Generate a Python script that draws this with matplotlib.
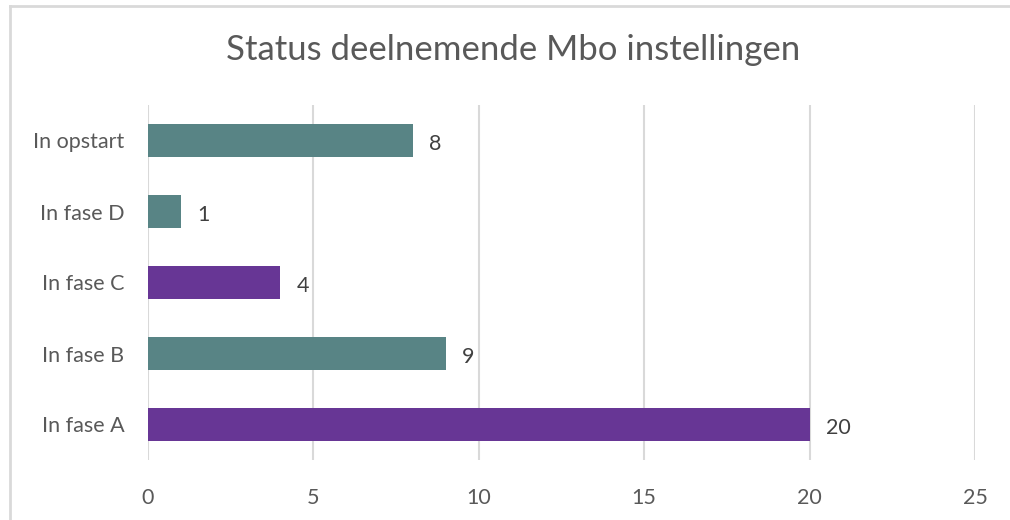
import matplotlib
matplotlib.use("Agg")
import matplotlib.pyplot as plt
from matplotlib.lines import Line2D

categories = ["In fase A", "In fase B", "In fase C", "In fase D", "In opstart"]
values = [20, 9, 4, 1, 8]
colors = ["#673695", "#588485", "#673695", "#588485", "#588485"]
xticks = [0, 5, 10, 15, 20, 25]
title = "Status deelnemende Mbo instellingen"

plt.rcParams['font.family'] = ['Lato', 'DejaVu Sans']
txt = "#595959"

fig = plt.figure(figsize=(10.1, 5.2), dpi=100)
ax = fig.add_axes([148/1010, 1 - 460/520, (975-148)/1010, (460-105)/520])

y = list(range(len(categories)))
ax.barh(y, values, height=0.465, color=colors, zorder=3)
for yi, v in zip(y, values):
    ax.text(v + 0.5, yi - 0.05, str(v), va="center", ha="left", fontsize=15.5, color="#404040")

ax.set_xlim(0, 25)
ax.set_ylim(-0.5, len(categories) - 0.5)
ax.set_xticks(xticks)
ax.set_xticklabels([str(t) for t in xticks])
ax.set_yticks(y)
ax.set_yticklabels(categories)
ax.tick_params(axis="both", length=0, labelsize=15.5, colors=txt)
ax.tick_params(axis="x", pad=20)
ax.tick_params(axis="y", pad=17)
ax.grid(axis="x", color="#d9d9d9", linewidth=1.5, zorder=0)
for s in ax.spines.values():
    s.set_visible(False)

fig.text(513/1010, 1 - 50/520, title, ha="center", va="center", fontsize=25, color=txt)

# chart area border (top and left)
fig.add_artist(Line2D([10/1010, 1], [1 - 6/520, 1 - 6/520], color="#d9d9d9", linewidth=2, transform=fig.transFigure))
fig.add_artist(Line2D([10/1010, 10/1010], [0, 1 - 6/520], color="#d9d9d9", linewidth=2, transform=fig.transFigure))

fig.savefig("out.png", dpi=100)
